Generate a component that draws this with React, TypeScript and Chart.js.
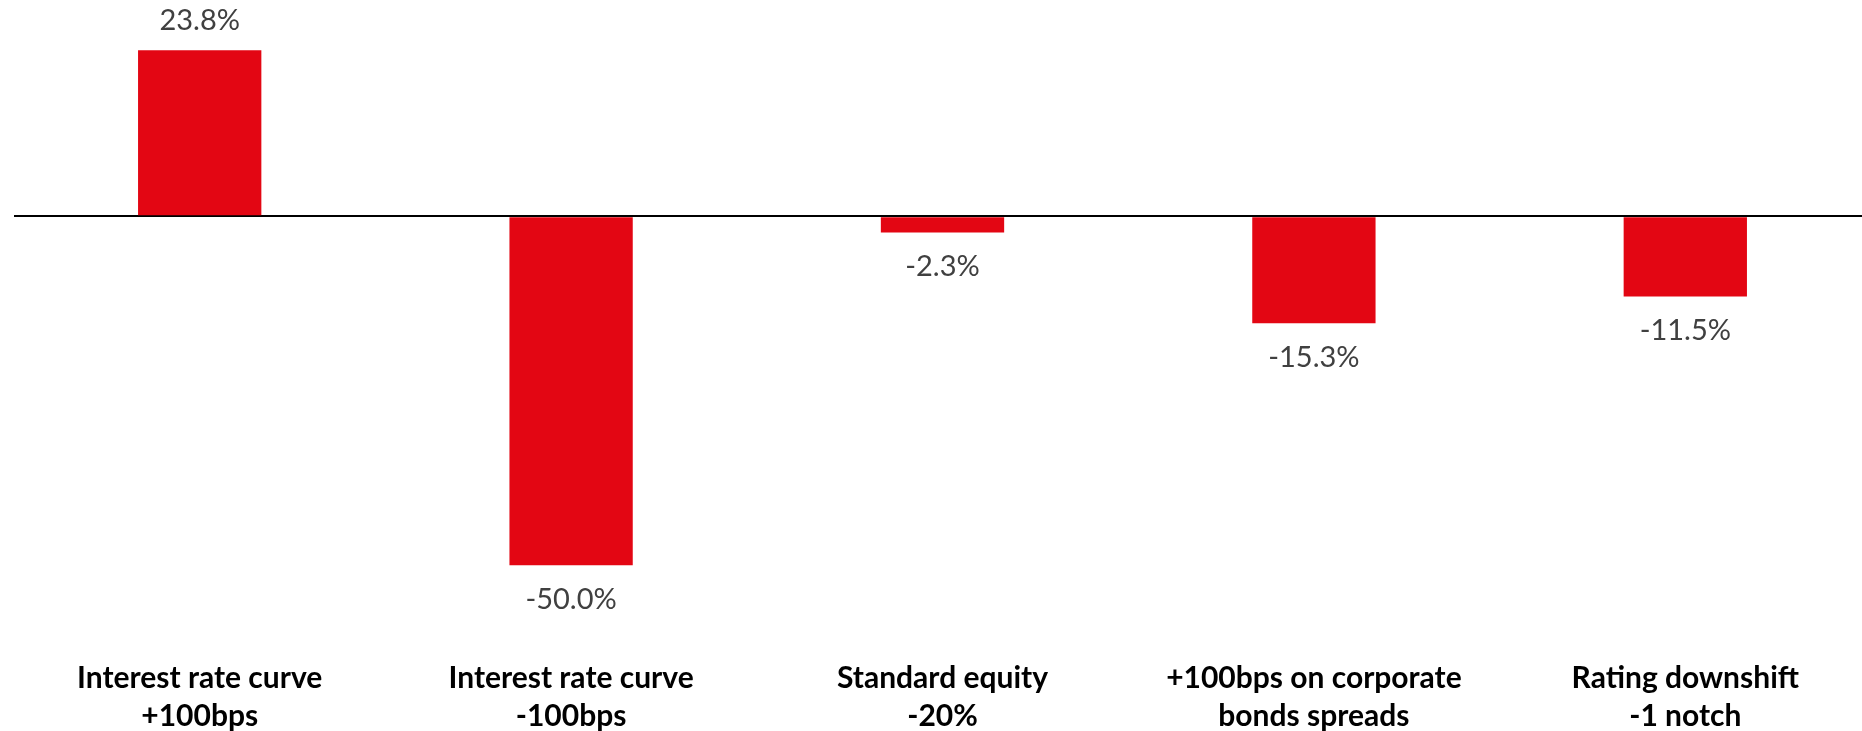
import React, { useEffect, useRef } from "react";
import { Chart, registerables } from "chart.js";

Chart.register(...registerables);

const categories: string[][] = [
  ["Interest rate curve", "+100bps"],
  ["Interest rate curve", "-100bps"],
  ["Standard equity", "-20%"],
  ["+100bps on corporate", "bonds spreads"],
  ["Rating downshift", "-1 notch"],
];
const values: number[] = [23.8, -50.0, -2.3, -15.3, -11.5];
const Y_MIN = -60.7;
const Y_MAX = 31;

const BAR_COLOR = "#E30613";
const LABEL_COLOR = "#404040";
const FONT = "Lato, 'Open Sans', sans-serif";

const valueLabels = {
  id: "valueLabels",
  afterDatasetsDraw(chart: any) {
    const ctx = chart.ctx;
    const meta = chart.getDatasetMeta(0);
    const data = chart.data.datasets[0].data as number[];
    ctx.save();
    ctx.font = `29px ${FONT}`;
    ctx.fillStyle = LABEL_COLOR;
    ctx.textAlign = "center";
    ctx.textBaseline = "alphabetic";
    meta.data.forEach((el: any, i: number) => {
      const v = data[i];
      const txt = `${v.toFixed(1)}%`;
      const y = v >= 0 ? el.y - 20.5 : el.y + 43.5;
      ctx.fillText(txt, el.x, y);
    });
    ctx.restore();
  },
};

export default function App() {
  const ref = useRef<HTMLCanvasElement>(null);
  useEffect(() => {
    if (!ref.current) return;
    const chart = new Chart(ref.current, {
      type: "bar",
      data: {
        labels: categories,
        datasets: [
          {
            data: values,
            backgroundColor: BAR_COLOR,
            borderWidth: 0,
            categoryPercentage: 1,
            barPercentage: 0.332,
          },
        ],
      },
      options: {
        animation: false,
        responsive: false,
        devicePixelRatio: 1,
        layout: { padding: { left: 14, right: 0, top: 0, bottom: 0 } },
        plugins: {
          legend: { display: false },
          tooltip: { enabled: false },
        },
        scales: {
          x: {
            position: "bottom",
            grid: { display: false, drawTicks: false },
            border: { display: false },
            ticks: {
              color: "#000",
              padding: 19,
              autoSkip: false,
              maxRotation: 0,
              minRotation: 0,
              font: { family: FONT, size: 30, weight: "bold", lineHeight: "38px" },
            },
            afterFit(scale: any) {
              scale.height = 91;
            },
          },
          y: {
            min: Y_MIN,
            max: Y_MAX,
            border: { display: false },
            grid: {
              drawTicks: false,
              lineWidth: 2,
              color: (c: any) => (c.tick && c.tick.value === 0 ? "#000" : "rgba(0,0,0,0)"),
            },
            ticks: { display: false, stepSize: 10 },
          },
        },
      },
      plugins: [valueLabels],
    });
    return () => chart.destroy();
  }, []);
  return (
    <div
      style={{
        position: "fixed",
        left: 0,
        top: 0,
        width: 1862,
        height: 731,
        overflow: "hidden",
        background: "#fff",
      }}
    >
      <canvas ref={ref} width={1871} height={731} style={{ width: 1871, height: 731, display: "block" }} />
    </div>
  );
}
